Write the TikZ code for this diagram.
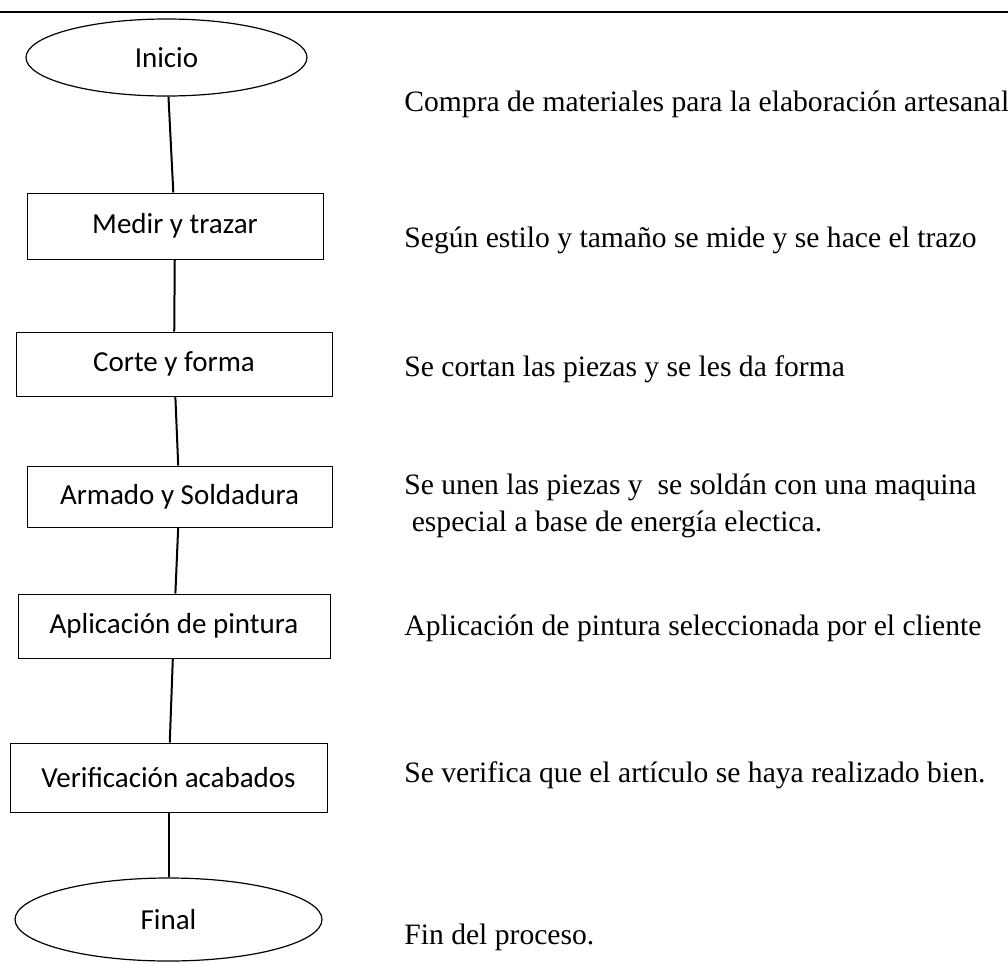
\documentclass[tikz,border=0pt]{standalone}
\usepackage{fontspec}
\setmainfont{Liberation Serif}
\newfontfamily\cajafont{Carlito}
\usetikzlibrary{shapes.geometric}

\begin{document}
\begin{tikzpicture}[x=0.5pt, y=-0.5pt,
        proceso/.style={draw, line width=0.5pt, inner sep=0pt, font=\cajafont\fontsize{14.5}{17}\selectfont},
        extremo/.style={draw, ellipse, line width=0.6pt, inner sep=0pt, font=\cajafont\fontsize{14.5}{17}\selectfont},
        nota/.style={anchor=west, inner sep=0pt, align=left, font=\fontsize{14.8}{18.5}\selectfont},
        enlace/.style={line width=1pt}]
        \useasboundingbox (0,0) rectangle (1008,964);

        \draw[line width=1pt] (0,12) -- (1008,12);

        % columna de la izquierda
        \node[extremo, minimum width=140.5pt, minimum height=38.5pt] (inicio) at (166.5, 57.5) {Inicio};
        \node[proceso, minimum width=148pt, minimum height=33pt] (medir) at (175, 226) {Medir y trazar};
        \node[proceso, minimum width=158pt, minimum height=32pt] (corte) at (174, 364) {Corte y forma};
        \node[proceso, minimum width=152.5pt, minimum height=30.5pt] (armado) at (179.5, 496.5) {Armado y Soldadura};
        \node[proceso, minimum width=156pt, minimum height=32pt] (pintura) at (174, 626) {Aplicación de pintura};
        \node[proceso, minimum width=158.5pt, minimum height=34.5pt] (verificar) at (168.5, 777.5) {Verificación acabados};
        \node[extremo, minimum width=153.5pt, minimum height=41.5pt] (final) at (168.5, 919.5) {Final};

        \draw[enlace] (inicio) -- (medir);
        \draw[enlace] (medir) -- (corte);
        \draw[enlace] (corte) -- (armado);
        \draw[enlace] (armado) -- (pintura);
        \draw[enlace] (pintura) -- (verificar);
        \draw[enlace] (verificar) -- (final);

        % descripciones
        \node[nota] (n-inicio) at (404, 104) {Compra de materiales para la elaboración artesanal};
        \node[nota] (n-medir) at (404, 240) {Según estilo y tamaño se mide y se hace el trazo};
        \node[nota] (n-corte) at (404, 369) {Se cortan las piezas y se les da forma};
        \node[nota] (n-armado) at (404, 506) {Se unen las piezas y \ se soldán con una maquina\\ \ especial a base de energía electica.};
        \node[nota] (n-pintura) at (404, 628) {Aplicación de pintura seleccionada por el cliente};
        \node[nota] (n-verificar) at (404, 775) {Se verifica que el artículo se haya realizado bien.};
        \node[nota] (n-final) at (404, 937) {Fin del proceso.};
    \end{tikzpicture}
\end{document}
